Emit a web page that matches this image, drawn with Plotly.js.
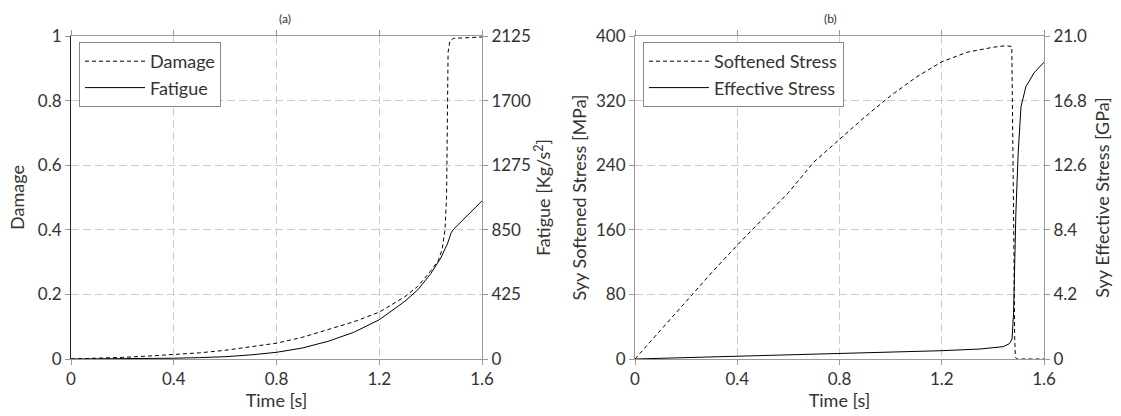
<!DOCTYPE html>
<html>
<head>
<meta charset="utf-8">
<script src="https://cdn.plot.ly/plotly-3.0.1.min.js"></script>
<style>html,body{margin:0;padding:0;background:#fff}#chart{width:1121px;height:416px}</style>
</head>
<body>
<div id="chart"></div>
<script>
// Panel (a)
const damageTime = [0,0.1,0.2,0.3,0.4,0.5,0.6,0.7,0.8,0.9,1.0,1.1,1.2,1.3,1.35,1.4,1.43,1.445,1.456,1.462,1.466,1.468,1.475,1.49,1.55,1.6];
const damage     = [0,0.002,0.005,0.009,0.013,0.019,0.027,0.037,0.049,0.067,0.09,0.115,0.145,0.193,0.225,0.272,0.305,0.34,0.4,0.5,0.8,0.95,0.985,0.993,0.995,0.997];
const fatigueTime = [0,0.1,0.2,0.3,0.4,0.5,0.6,0.7,0.8,0.9,1.0,1.1,1.2,1.3,1.35,1.4,1.44,1.456,1.465,1.472,1.48,1.49,1.55,1.6];
const fatigue     = [0,0.5,1.5,3,5,9,15,27,44,72,116,175,258,380,455,560,665,725,755,790,830,855,956,1040];
// Panel (b)
const softTime = [0,0.1,0.2,0.3,0.4,0.5,0.6,0.7,0.8,0.9,1.0,1.1,1.2,1.3,1.4,1.45,1.474,1.478,1.482,1.485,1.488,1.495,1.6];
const softStress = [0,36,72,107,141,174,206,244,272,300,326,349,368,380,386,388,387,300,150,30,2,0,0];
const effTime = [0,0.4,0.8,1.2,1.35,1.44,1.465,1.475,1.481,1.485,1.49,1.499,1.51,1.529,1.561,1.6];
const effStress = [0,0.17,0.35,0.54,0.65,0.8,1.0,1.3,3,7,9.5,13.4,16.4,17.7,18.6,19.3];
// Ticks
const xTicks = [0,0.4,0.8,1.2,1.6];
const xTickText = ["0","0.4","0.8","1.2","1.6"];
const damageTicks = [0,0.2,0.4,0.6,0.8,1];
const damageTickText = ["0","0.2","0.4","0.6","0.8","1"];
const fatigueTicks = [0,425,850,1275,1700,2125];
const softTicks = [0,80,160,240,320,400];
const effTicks = [0,4.2,8.4,12.6,16.8,21.0];
const effTickText = ["0","4.2","8.4","12.6","16.8","21.0"];

const FONT = "Lato, 'Open Sans', sans-serif";
const TXT = "#333";
const GRID = "#cccccc";
const AX = "#999";
const dashLine = "4px,3px";
const gridDash = "8px,4px";
const TICKSIZE = 17, TITLESIZE = 18, LEGSIZE = 18;

const traces = [
  {x: damageTime, y: damage, name: "Damage", mode: "lines", xaxis: "x", yaxis: "y",
   line: {color: "#000", width: 1, dash: dashLine}, legend: "legend"},
  {x: fatigueTime, y: fatigue, name: "Fatigue", mode: "lines", xaxis: "x", yaxis: "y2",
   line: {color: "#000", width: 1}, legend: "legend"},
  {x: softTime, y: softStress, name: "Softened Stress", mode: "lines", xaxis: "x2", yaxis: "y3",
   line: {color: "#000", width: 1, dash: dashLine}, legend: "legend2"},
  {x: effTime, y: effStress, name: "Effective Stress", mode: "lines", xaxis: "x2", yaxis: "y4",
   line: {color: "#000", width: 1}, legend: "legend2"}
];

function xAxis(domain, anchor) {
  return {domain: domain, anchor: anchor, range: [0,1.6], tickvals: xTicks, ticktext: xTickText,
    showgrid: true, gridcolor: GRID, griddash: gridDash, gridwidth: 1,
    showline: true, linecolor: AX, linewidth: 1, mirror: "allticks",
    ticks: "outside", ticklen: 5, tickcolor: AX, zeroline: false,
    tickfont: {size: TICKSIZE, color: TXT, family: FONT},
    title: {text: "Time [s]", font: {size: TITLESIZE, color: TXT, family: FONT}, standoff: 2}};
}
function yAxis(range, vals, text, title, lineColor, standoff, extra) {
  return Object.assign({range: range, tickvals: vals, ticktext: text,
    showgrid: true, gridcolor: GRID, griddash: gridDash, gridwidth: 1,
    showline: true, linecolor: lineColor, linewidth: 1,
    ticks: "outside", ticklen: 5, tickcolor: AX, zeroline: false,
    tickfont: {size: TICKSIZE, color: TXT, family: FONT},
    title: {text: title, font: {size: TITLESIZE, color: TXT, family: FONT}, standoff: standoff}}, extra);
}

const layout = {
  width: 1121, height: 416,
  margin: {l: 0, r: 0, t: 36, b: 57},
  paper_bgcolor: "#fff", plot_bgcolor: "#fff",
  font: {family: FONT, color: TXT},
  xaxis: xAxis([71/1121, 482/1121], "y"),
  xaxis2: xAxis([635/1121, 1044/1121], "y3"),
  yaxis: yAxis([0,1], damageTicks, damageTickText, "Damage", "#222", 8, {anchor: "x"}),
  yaxis2: yAxis([0,2125], fatigueTicks, fatigueTicks.map(String), "Fatigue [Kg/s<sup>2</sup>]", AX, 6,
    {anchor: "x", overlaying: "y", side: "right", showgrid: false}),
  yaxis3: yAxis([0,400], softTicks, softTicks.map(String), "Syy Softened Stress [MPa]", AX, 4, {anchor: "x2"}),
  yaxis4: yAxis([0,21], effTicks, effTickText, "Syy Effective Stress [GPa]", AX, 10,
    {anchor: "x2", overlaying: "y3", side: "right", showgrid: false}),
  showlegend: true,
  legend: {x: 79/1121, y: (360-43)/323, xanchor: "left", yanchor: "top",
    bgcolor: "#fff", bordercolor: "#888", borderwidth: 1, itemwidth: 60,
    font: {size: LEGSIZE, color: TXT, family: FONT}, tracegroupgap: 0},
  legend2: {x: 643/1121, y: (360-43)/323, xanchor: "left", yanchor: "top",
    bgcolor: "#fff", bordercolor: "#888", borderwidth: 1, itemwidth: 60,
    font: {size: LEGSIZE, color: TXT, family: FONT}, tracegroupgap: 0},
  annotations: [
    {text: "(a)", xref: "paper", yref: "paper", x: 277/1121, y: 1, yshift: 18, yanchor: "middle", showarrow: false,
     font: {size: 12, color: TXT, family: FONT}},
    {text: "(b)", xref: "paper", yref: "paper", x: 839/1121, y: 1, yshift: 18, yanchor: "middle", showarrow: false,
     font: {size: 12, color: TXT, family: FONT}}
  ]
};

Plotly.newPlot("chart", traces, layout, {displayModeBar: false, staticPlot: true});
</script>
</body>
</html>
